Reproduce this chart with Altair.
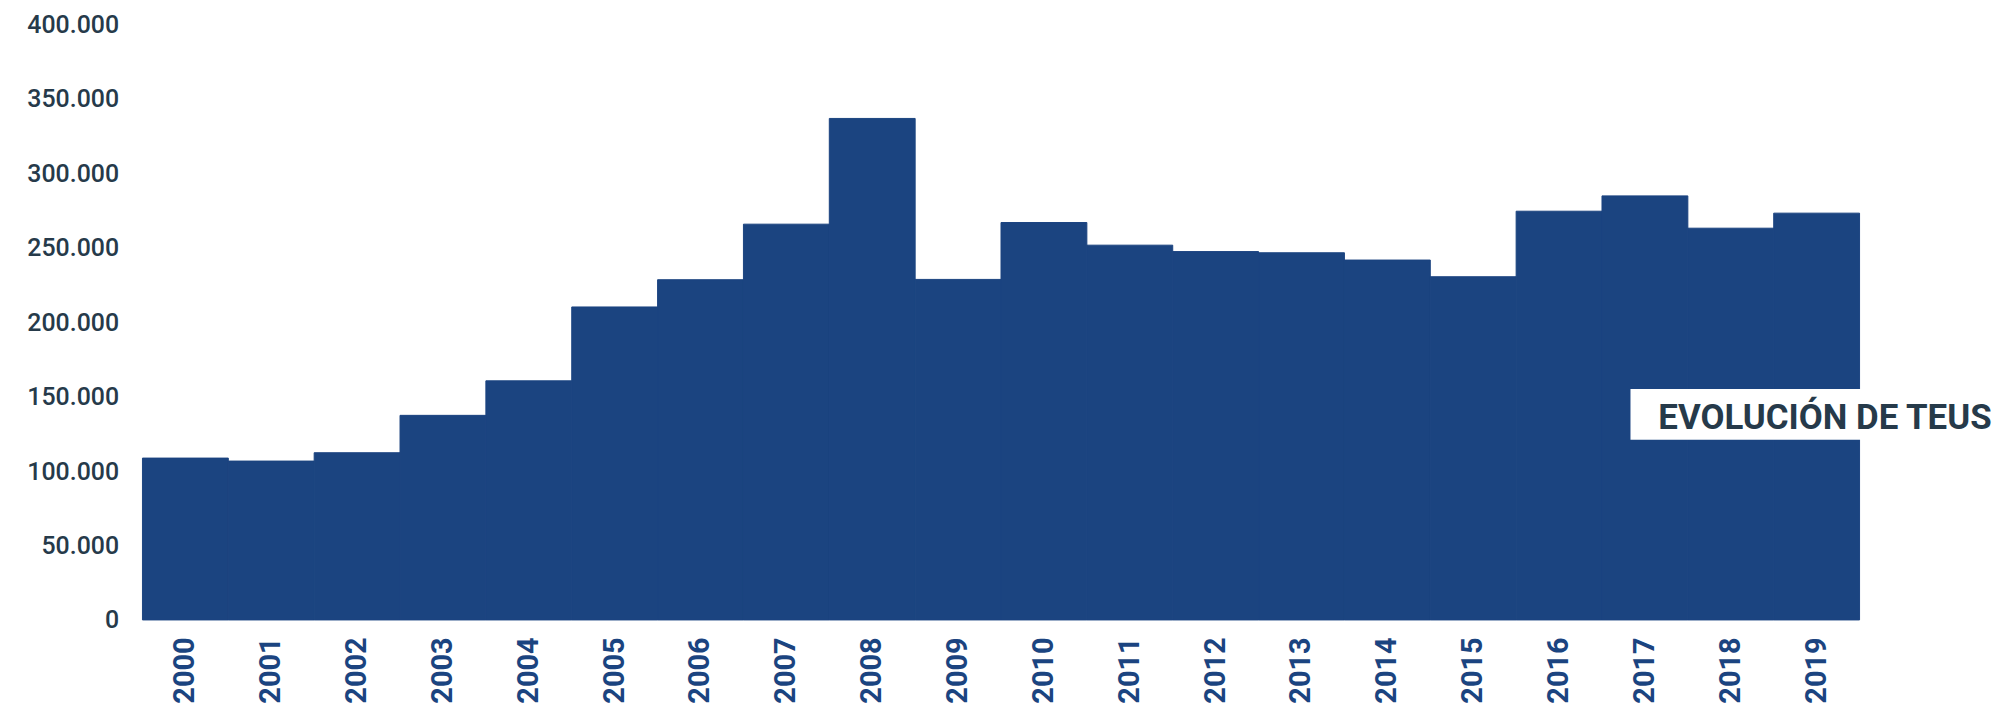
import altair as alt
import pandas as pd

years = [str(y) for y in range(2000, 2020)]
teus = [108700, 106700, 112300, 137400, 160600, 210200, 228500, 265800, 336800, 228700,
        266900, 251700, 247400, 246600, 241700, 230500, 274500, 284800, 263100, 273200]
y_ticks = [0, 50000, 100000, 150000, 200000, 250000, 300000, 350000, 400000]
title_text = ["EVOLUCIÓN DE TEUS"]

BAR = "#1b4480"
DARK = "#263a4a"

df = pd.DataFrame({"year": years, "teus": teus})

bars = alt.Chart(df).mark_bar(color=BAR, stroke=BAR, strokeWidth=1).encode(
    x=alt.X("year:O", title=None,
            scale=alt.Scale(paddingInner=0, paddingOuter=0),
            axis=alt.Axis(labelAngle=270, labelFont="Roboto", labelFontWeight="bold",
                          labelFontSize=29, labelColor=BAR, labelPadding=17,
                          domain=False, ticks=False)),
    y=alt.Y("teus:Q", title=None,
            scale=alt.Scale(domain=[0, 400000], nice=False),
            axis=alt.Axis(values=y_ticks, grid=False, domain=False, ticks=False,
                          labelFont="Roboto", labelFontSize=25, labelFontWeight=500,
                          labelColor=DARK, labelPadding=24,
                          labelExpr="replace(format(datum.value, ','), ',', '.')")),
)

lab = pd.DataFrame({"label": title_text})
box = alt.Chart(lab).mark_rect(color="white").encode(
    x=alt.value(1494), x2=alt.value(1860), y=alt.value(366), y2=alt.value(417)
)
txt = alt.Chart(lab).mark_text(align="left", baseline="alphabetic", font="Roboto",
                               fontWeight="bold", fontSize=35, color=DARK).encode(
    x=alt.value(1522), y=alt.value(406), text="label:N"
)

chart = alt.layer(bars, box, txt).properties(
    width=1724, height=598,
    autosize=alt.AutoSizeParams(type="none"),
    padding={"left": 135, "top": 15, "right": 140, "bottom": 88},
).configure_view(stroke=None)

chart.save("out.html", embed_options={"renderer": "svg", "actions": False})
